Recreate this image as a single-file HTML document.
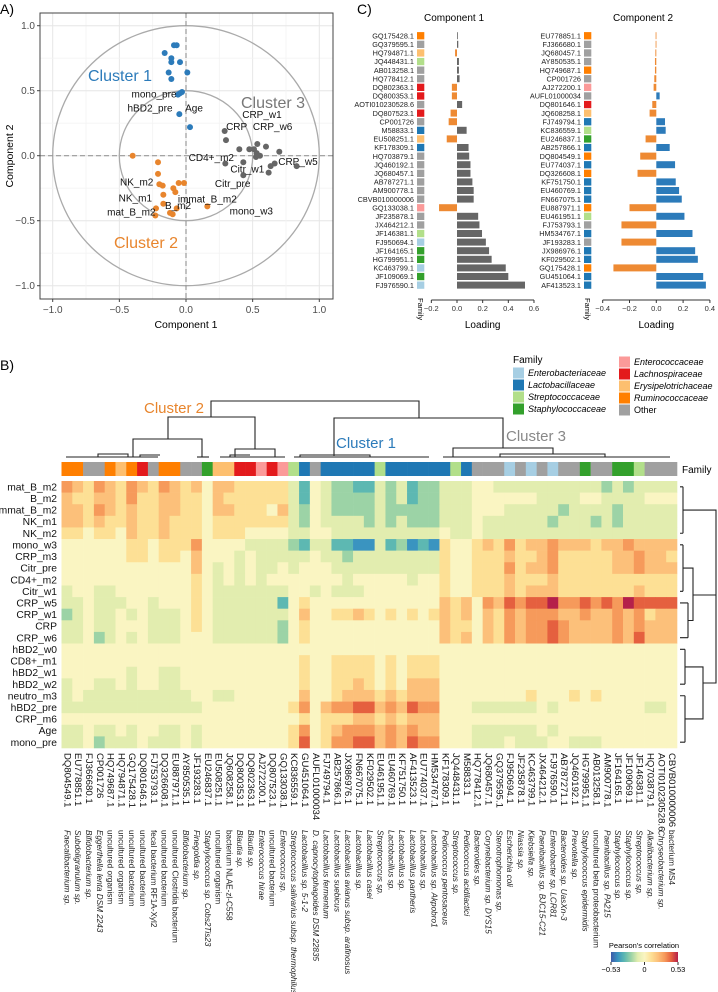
<!DOCTYPE html>
<html><head><meta charset="utf-8">
<style>
html,body{margin:0;padding:0;background:#fff;}
svg{display:block;font-family:"Liberation Sans",Arial,sans-serif;}
</style></head>
<body>
<svg id="fig" width="718" height="992" viewBox="0 0 718 992" xmlns="http://www.w3.org/2000/svg"></svg>
<script>
// ---------- DATA ----------
const famColors = {Ent:'#A6CEE3',Lac:'#1F78B4',Str:'#B2DF8A',Sta:'#33A02C',Enc:'#FB9A99',Lach:'#E31A1C',Ery:'#FDBF6F',Rum:'#FF7F00',Oth:'#A0A0A0'};
// Panel A
const bluePts = [[-0.09,0.85],[-0.07,0.85],[-0.16,0.79],[-0.11,0.75],[-0.045,0.72],[-0.11,0.72],[-0.13,0.64],[0.01,0.64],[-0.11,0.59],[-0.06,0.47],[-0.03,0.49],[-0.045,0.48],[-0.05,0.32],[0.03,0.22]];
const grayPts = [[0.29,0.19],[0.30,0.12],[0.40,0.05],[0.475,0.05],[0.51,0.05],[0.535,0.09],[0.60,0.07],[0.53,0.02],[0.525,-0.01],[0.555,0.0],[0.70,0.03],[0.665,-0.06],[0.635,-0.08],[0.83,-0.08],[0.62,-0.13],[0.43,-0.05],[0.43,-0.15],[0.295,-0.06]];
const orangePts = [[-0.40,0.0],[-0.21,-0.05],[-0.21,-0.14],[-0.20,-0.22],[-0.175,-0.23],[-0.055,-0.21],[-0.015,-0.21],[-0.095,-0.25],[-0.08,-0.28],[-0.17,-0.30],[-0.17,-0.37],[-0.225,-0.405],[-0.23,-0.46],[-0.12,-0.44],[-0.10,-0.45],[-0.07,-0.405],[0.16,-0.39]];
const varLabels = ['mono_pre','hBD2_pre','Age','CRP_w1','CRP','CRP_w6','CD4+_m2','CRP_w5','Citr_w1','Citr_pre','NK_m2','NK_m1','immat_B_m2','B_m2','mat_B_m2','mono_w3'];
const varLabelPos = [[-0.24,0.48],[-0.27,0.37],[0.06,0.37],[0.57,0.32],[0.38,0.23],[0.65,0.23],[0.19,-0.01],[0.84,-0.04],[0.46,-0.10],[0.35,-0.21],[-0.37,-0.20],[-0.38,-0.32],[0.16,-0.33],[-0.06,-0.38],[-0.41,-0.43],[0.49,-0.42]];
const axTicks = [-1.0,-0.5,0.0,0.5,1.0];

// Panel C
const c1Labels = ['GQ175428.1','GQ379595.1','HQ794871.1','JQ448431.1','AB013258.1','HQ778412.1','DQ802363.1','DQ800353.1','AOTI010230528.6','DQ807523.1','CP001726','M58833.1','EU508251.1','KF178309.1','HQ703879.1','JQ460192.1','JQ680457.1','AB787271.1','AM900778.1','CBVB010000006','GQ133038.1','JF235878.1','JX464212.1','JF146381.1','FJ950694.1','JF164165.1','HG799951.1','KC463799.1','JF109069.1','FJ976590.1'];
const c1Fam = ['Rum','Oth','Ery','Str','Oth','Oth','Lach','Lach','Oth','Lach','Oth','Lac','Ery','Lac','Oth','Oth','Oth','Oth','Oth','Oth','Enc','Oth','Oth','Str','Ent','Sta','Sta','Ent','Sta','Ent'];
const c1Vals = [0.003,0.01,-0.015,0.015,0.015,0.02,-0.04,-0.04,0.04,-0.05,-0.065,0.075,-0.08,0.09,0.095,0.105,0.105,0.12,0.13,0.13,-0.14,0.165,0.175,0.195,0.225,0.25,0.27,0.38,0.40,0.53];
const c1Ticks = [-0.2,0.0,0.2,0.4,0.6];
const c2Labels = ['EU778851.1','FJ366680.1','JQ680457.1','AY850535.1','HQ749687.1','CP001726','AJ272200.1','AUFL01000034','DQ801646.1','JQ608258.1','FJ749794.1','KC836559.1','EU246837.1','AB257866.1','DQ804549.1','EU774037.1','DQ326608.1','KF751750.1','EU460769.1','FN667075.1','EU887971.1','EU461951.1','FJ753793.1','HM534767.1','JF193283.1','JX986976.1','KF029502.1','GQ175428.1','GU451064.1','AF413523.1'];
const c2Fam = ['Rum','Oth','Oth','Oth','Rum','Oth','Enc','Oth','Lach','Ery','Lac','Str','Sta','Lac','Rum','Lac','Rum','Lac','Lac','Lac','Rum','Str','Oth','Lac','Oth','Lac','Lac','Rum','Lac','Lac'];
const c2Vals = [-0.005,-0.005,-0.007,-0.01,-0.01,-0.015,-0.02,0.025,-0.03,-0.05,0.065,0.07,-0.08,0.10,-0.12,0.14,-0.14,0.145,0.17,0.19,-0.20,0.21,-0.26,0.27,-0.26,0.29,0.31,-0.32,0.35,0.37];
const c2Ticks = [-0.4,-0.2,0.0,0.2,0.4];

// Panel B heatmap
const hmRows = ['mat_B_m2','B_m2','immat_B_m2','NK_m1','NK_m2','mono_w3','CRP_m3','Citr_pre','CD4+_m2','Citr_w1','CRP_w5','CRP_w1','CRP','CRP_w6','hBD2_w0','CD8+_m1','hBD2_w1','hBD2_w2','neutro_m3','hBD2_pre','CRP_m6','Age','mono_pre'];
const hmCols = ['DQ804549.1','EU778851.1','FJ366680.1','CP001726','HQ749687.1','HQ794871.1','GQ175428.1','DQ801646.1','FJ753793.1','DQ326608.1','EU887971.1','AY850535.1','JF193283.1','EU246837.1','EU508251.1','JQ608258.1','DQ800353.1','DQ802363.1','AJ272200.1','DQ807523.1','GQ133038.1','KC836559.1','GU451064.1','AUFL01000034','FJ749794.1','AB257866.1','JX986976.1','FN667075.1','KF029502.1','EU461951.1','EU460769.1','KF751750.1','AF413523.1','EU774037.1','HM534767.1','KF178309.1','JQ448431.1','M58833.1','HQ778412.1','JQ680457.1','GQ379595.1','FJ950694.1','JF235878.1','KC463799.1','JX464212.1','FJ976590.1','AB787271.1','JQ460192.1','HG799951.1','AB013258.1','AM900778.1','JF164165.1','JF109069.1','JF146381.1','HQ703879.1','AOTI010230528.6','CBVB010000006'];
const hmSpecies = ['Faecalibacterium sp.','Subdoligranulum sp.','Bifidobacterium sp.','Eggerthella lenta DSM 2243','uncultured organism','uncultured organism','uncultured bacterium','uncultured bacterium','fecal bacterium RF1A-Xyl2','uncultured bacterium','uncultured Clostridia bacterium','Bifidobacterium sp.','Finegoldia sp.','Staphylococcus sp. Cobs2Tis23','uncultured organism','bacterium NLAE-zl-C558','Blautia sp.','Blautia sp.','Enterococcus hirae','uncultured bacterium','Enterococcus sp.','Streptococcus salivarius subsp. thermophilus','Lactobacillus sp. 5-1-2','D. capnocytophagoides DSM 22835','Lactobacillus fermentum','Lactobacillus suebicus','Lactobacillus avianus subsp. arafinosus','Lactobacillus sp.','Lactobacillus casei','Streptococcus sp.','Lactobacillus sp.','Lactobacillus sp.','Lactobacillus pantheris','Lactobacillus sp.','Lactobacillus sp. Akpobro1','Pediococcus pentosaceus','Streptococcus sp.','Pediococcus acidilactici','Bacteroides sp.','Corynebacterium sp. DYS15','Stenotrophomonas sp.','Escherichia coli','Niassia sp.','Klebsiella sp.','Paenibacillus sp. BJC15-C21','Enterobacter sp. LCR81','Bacteroides sp. UasXn-3','Prevotella sp.','Staphylococcus epidermidis','uncultured beta proteobacterium','Paenibacillus sp. PA215','Staphylococcus sp.','Staphylococcus sp.','Streptococcus sp.','Alkalibacterium sp.','Chryseobacterium sp.','bacterium MS4'];
const hmFam = ['Rum','Rum','Oth','Oth','Rum','Ery','Rum','Lach','Oth','Rum','Rum','Oth','Oth','Sta','Ery','Ery','Lach','Lach','Enc','Lach','Enc','Str','Lac','Oth','Lac','Lac','Lac','Lac','Lac','Str','Lac','Lac','Lac','Lac','Lac','Lac','Str','Lac','Oth','Oth','Oth','Ent','Oth','Ent','Oth','Ent','Oth','Oth','Sta','Oth','Oth','Sta','Sta','Str','Oth','Oth','Oth'];
// correlation level per cell (digit d -> r = (d-4)*0.106)
const hmLevels = [
'7657657657656466555553143221'+'13231223334433333333332323333',
'6556657556655465555553143222'+'23231223334444443333443333444',
'6657656556655466555463243222'+'23222223334443333323333233333',
'6656556556555455555553243333'+'23232223334333333233323233333',
'5545546556555455544443344333'+'33333334334333333333333333333',
'4444445545557444433332133110'+'03120105445657566766656676666',
'4444445545546444343333343323'+'33333335445556556755555667665',
'4444444444446434343343444333'+'33333335445557566755555667666',
'4444444444445434343444444434'+'44443445445556555655555555555',
'3443344444445433333334434333'+'44444445445556566655555556555',
'3343334434445433333314544444'+'44444446564768788977878798888',
'2343343433345433333334644556'+'54545456564657677766766767566',
'3343344433345433333324544444'+'44444446554657677876666767666',
'3342343433344433333324544444'+'44444446564657677876666768666',
'4444444444444444444444444444'+'44444444444444444444444444444',
'4444444444444444444444544555'+'5454555'+'4444444444444444444444',
'4444443443344444444444544555'+'5454555'+'4444444444444444444444',
'3443343443344444444444544556'+'5454666'+'4444444444444444444444',
'3433333333334433444444644566'+'6565666'+'4444444454445454444444',
'3333333333333444444445746778'+'8676877'+'4443333334344444444334',
'4444444444444444444444545556'+'6565666'+'4444444444444444444444',
'3343343443343444444445745677'+'7676766'+'4443333334344444444444',
'3342333433343444444445845778'+'8676877'+'4443334333443334444444'
];
const cbTicks = [-0.53,0,0.53];
const famLegend = [['Ent','Enterobacteriaceae'],['Lac','Lactobacillaceae'],['Str','Streptococcaceae'],['Sta','Staphylococcaceae'],['Enc','Enterococcaceae'],['Lach','Lachnospiraceae'],['Ery','Erysipelotrichaceae'],['Rum','Ruminococcaceae'],['Oth','Other']];

// ---------- HELPERS ----------
const NS='http://www.w3.org/2000/svg';
const svg=document.getElementById('fig');
function mk(tag,attrs,parent){const e=document.createElementNS(NS,tag);for(const k in attrs)e.setAttribute(k,attrs[k]);(parent||svg).appendChild(e);return e;}
function txt(s,attrs,parent){const e=mk('text',attrs,parent);e.textContent=s;return e;}
function fmt(v,d){return (v<0?'\u2212':'')+Math.abs(v).toFixed(d);}

// ---------- PANEL A ----------
const A=mk('g',{});


const ax=v=>186+v*133.3, ay=v=>155.7-v*130;
let t=txt('A)',{x:0,y:14,'font-size':14},A);

const bg=mk('rect',{x:40,y:13,width:293,height:286,fill:'#fff'},A);

for(let v=-1.25;v<=1.26;v+=0.25){
  const major=Math.abs(v*2-Math.round(v*2))<1e-6;
  const gx=ax(v); if(gx>40&&gx<333){const l=mk('line',{x1:gx,x2:gx,y1:13,y2:299,stroke:major?'#e6e6e6':'#f3f3f3','stroke-width':major?1:0.8},A);}
  const gy=ay(v); if(gy>13&&gy<299){const l=mk('line',{x1:40,x2:333,y1:gy,y2:gy,stroke:major?'#e6e6e6':'#f3f3f3','stroke-width':major?1:0.8},A);}
}
let c=mk('ellipse',{cx:ax(0),cy:ay(0),rx:133.3,ry:130,fill:'none',stroke:'#aaa','stroke-width':1.3},A);

c=mk('ellipse',{cx:ax(0),cy:ay(0),rx:66.7,ry:65,fill:'none',stroke:'#aaa','stroke-width':1.3},A);

let l=mk('line',{x1:ax(0),x2:ax(0),y1:13,y2:299,stroke:'#999','stroke-dasharray':'5,3','stroke-width':1.2},A);

l=mk('line',{x1:40,x2:333,y1:ay(0),y2:ay(0),stroke:'#999','stroke-dasharray':'5,3','stroke-width':1.2},A);

[[bluePts,'#2C7BBA','cluster1-point'],[grayPts,'#666666','cluster3-point'],[orangePts,'#E8852D','cluster2-point']].forEach(([pts,col,nm])=>{
  pts.forEach(p=>{const d=mk('circle',{cx:ax(p[0]),cy:ay(p[1]),r:3,fill:col},A);
    
    });
});
varLabels.forEach((s,i)=>{const e=txt(s,{x:ax(varLabelPos[i][0]),y:ay(varLabelPos[i][1])+4,'font-size':10,'text-anchor':'middle',fill:'#111'},A);
  
  });
t=txt('Cluster 1',{x:120,y:81,'font-size':16,'text-anchor':'middle',fill:'#2C7BBA'},A);
t=txt('Cluster 3',{x:273,y:108,'font-size':16,'text-anchor':'middle',fill:'#777'},A);
t=txt('Cluster 2',{x:146,y:248,'font-size':16,'text-anchor':'middle',fill:'#E8852D'},A);
const brd=mk('rect',{x:40,y:13,width:293,height:286,fill:'none',stroke:'#444','stroke-width':1},A);

axTicks.forEach(v=>{
  let e=txt(fmt(v,1),{x:ax(v),y:313,'font-size':10,'text-anchor':'middle',fill:'#4d4d4d'},A);
  
  mk('line',{x1:ax(v),x2:ax(v),y1:299,y2:302,stroke:'#444'},A);
  e=txt(fmt(v,1),{x:35,y:ay(v)+3.5,'font-size':10,'text-anchor':'end',fill:'#4d4d4d'},A);
  
  mk('line',{x1:37,x2:40,y1:ay(v),y2:ay(v),stroke:'#444'},A);
});
t=txt('Component  1',{x:186,y:328,'font-size':10.5,'text-anchor':'middle'},A);
t=txt('Component  2',{x:0,y:0,'font-size':10.5,'text-anchor':'middle',transform:'translate(13,156) rotate(-90)'},A);

// ---------- PANEL C ----------
const C=mk('g',{});


t=txt('C)',{x:357,y:14,'font-size':14},C);
function loadingPlot(title,labels,fams,vals,ticks,x0,scale,sqx,labx,titlex,posCol,nm){
  const g=mk('g',{},C);
  
  
  let e=txt(title,{x:titlex,y:21,'font-size':10,'text-anchor':'middle'},g);
  
  const ry=i=>35.7+i*8.6;
  labels.forEach((s,i)=>{
    e=txt(s,{x:labx,y:ry(i)+2.7,'font-size':7.3,'text-anchor':'end',fill:'#222'},g);
    
    e=mk('rect',{x:sqx,y:ry(i)-3.6,width:7.3,height:7.3,fill:famColors[fams[i]]},g);
    
    const v=vals[i];const xa=x0+scale*Math.min(0,v),w=Math.abs(v)*scale;
    e=mk('rect',{x:xa,y:ry(i)-3.5,width:Math.max(w,0.8),height:7,fill:v>=0?posCol:'#EE8A33'},g);
    
  });
  const xmin=x0+ticks[0]*scale,xmax=x0+ticks[ticks.length-1]*scale;
  e=mk('line',{x1:xmin,x2:xmax,y1:300,y2:300,stroke:'#333'},g);
  
  ticks.forEach(v=>{mk('line',{x1:x0+v*scale,x2:x0+v*scale,y1:300,y2:303,stroke:'#333'},g);
    e=txt(fmt(v,1),{x:x0+v*scale,y:311,'font-size':7.5,'text-anchor':'middle',fill:'#333'},g);
    });
  e=txt('Loading',{x:(xmin+xmax)/2,y:328,'font-size':10,'text-anchor':'middle'},g);
  
  e=txt('Family',{x:0,y:0,'font-size':7.5,transform:`translate(${sqx+1},298) rotate(90)`},g);
  
}
loadingPlot('Component 1',c1Labels,c1Fam,c1Vals,c1Ticks,457,128.3,417,414,454,'#666666','component-1-loadings');
loadingPlot('Component 2',c2Labels,c2Fam,c2Vals,c2Ticks,656.3,134,584,581,643,'#2C7BBA','component-2-loadings');

// ---------- PANEL B ----------
const B=mk('g',{});


t=txt('B)',{x:0,y:370,'font-size':14},B);
// legend
t=txt('Family',{x:513,y:363,'font-size':10},B);
famLegend.forEach((f,i)=>{
  const col=i<4?0:1, r=i<4?i:i-4;
  const x=col?619:513, y=col?(362+r*12):(373+r*12);
  let e=mk('rect',{x:x,y:y-5.5,width:11,height:11,fill:famColors[f[0]]},B);
  
  e=txt(f[1],{x:x+15,y:y+3,'font-size':9,'font-style':f[0]==='Oth'?'normal':'italic'},B);
  
});
// dendrogram top
const dend=['M211,417V401H419V418','M168,439V417H255V449','M133,457V439H202V457','M235,457V449H275V457','M334,456V418H503V448','M453,457V448H553V454','M500,457V454H605V457',
 'M66,457H158','M197,457H209','M220,457H285','M294,457H429','M443,457H670','M98,457V454H128V457','M300,457V455H370V457','M140,457V455H160','M230,457V455H250'];
dend.forEach(d=>{const e=mk('path',{d:d,fill:'none',stroke:'#222','stroke-width':1.1},B);
  
  });
t=txt('Cluster 2',{x:174,y:413,'font-size':15,'text-anchor':'middle',fill:'#E8852D'},B);
t=txt('Cluster 1',{x:366,y:448,'font-size':15,'text-anchor':'middle',fill:'#2C7BBA'},B);
t=txt('Cluster 3',{x:536,y:441,'font-size':15,'text-anchor':'middle',fill:'#888'},B);
// scales
const hx0=61.5, cw=(677-61.5)/hmCols.length, hy0=481, rh=(748-481)/hmRows.length;
const colX=j=>hx0+j*cw, rowY=i=>hy0+i*rh;
const stops=[[-0.53,'#3E5BA8'],[-0.424,'#3A94C0'],[-0.318,'#5DB8B2'],[-0.212,'#9CD3A6'],[-0.106,'#E2EDAF'],[0,'#FAF5C2'],[0.106,'#FDE095'],[0.212,'#FCC07A'],[0.318,'#F69A5B'],[0.424,'#E5603F'],[0.53,'#B5204A']];
function hex(h){return [1,3,5].map(k=>parseInt(h.substr(k,2),16));}
function colorOf(v){v=Math.max(-0.53,Math.min(0.53,v));for(let k=0;k<stops.length-1;k++){const a=stops[k],b=stops[k+1];if(v<=b[0]){const f=(v-a[0])/(b[0]-a[0]);const ca=hex(a[1]),cb=hex(b[1]);return 'rgb('+ca.map((x,q)=>Math.round(x+(cb[q]-x)*f)).join(',')+')';}}return stops[stops.length-1][1];}
// family strip
hmFam.forEach((f,j)=>{const e=mk('rect',{x:colX(j),y:462,width:cw+0.3,height:14,fill:famColors[f]},B);
  
  });
t=txt('Family',{x:682,y:473,'font-size':10},B);
// cells
hmLevels.forEach((row,i)=>{
  for(let j=0;j<hmCols.length;j++){
    const v=(parseInt(row[j])-4)*0.106;
    const e=mk('rect',{x:colX(j),y:rowY(i),width:cw+0.3,height:rh+0.3,fill:colorOf(v)},B);
    
    
  }
  const e=txt(hmRows[i],{x:57,y:rowY(i)+rh/2+3.6,'font-size':10.3,'text-anchor':'end',fill:'#111'},B);
  
  
});
// row dendrogram
const rc=i=>rowY(i)+rh/2;
const rd=[`M680,${rc(0)}H683M680,${rc(4)}H683M683,${rc(0)}V${rc(4)}`,`M683,${rc(2)}H716V683H703`,
 `M680,${rc(5)}H683M680,${rc(9)}H683M683,${rc(5)}V${rc(9)}`,`M680,${rc(10)}H688M680,${rc(13)}H688M688,${rc(10)}V${rc(13)}`,
 `M683,${rc(7)}H693V${rc(11)+6}H688`,'M693,595H716',
 `M680,${rc(14)}H685M680,${rc(17)}H685M685,${rc(14)}V${rc(17)}`,`M680,${rc(18)}H685M680,${rc(22)}H685M685,${rc(18)}V${rc(22)}`,
 `M685,${rc(15)+6}H703V${rc(20)}H685`];
rd.forEach(d=>{const e=mk('path',{d:d,fill:'none',stroke:'#222','stroke-width':1.1},B);
  
  });
// column labels
hmCols.forEach((s,j)=>{
  const cx=colX(j)+cw/2;
  let e=txt(s,{x:0,y:0,'font-size':9.6,'dominant-baseline':'central',fill:'#111',transform:`translate(${cx},753) rotate(90)`},B);
  
  
  const sp=hmSpecies[j];
  const ital=!/^(uncultured|bacterium|fecal)/.test(sp);
  e=txt(sp,{x:0,y:0,'font-size':8.2,'font-style':ital?'italic':'normal','dominant-baseline':'central',fill:'#222',transform:`translate(${cx},830) rotate(90)`},B);
  
  
});
// colorbar
const defs=mk('defs',{});
const lg=mk('linearGradient',{id:'cb',x1:0,x2:1,y1:0,y2:0},defs);
stops.forEach(s=>mk('stop',{offset:((s[0]+0.53)/1.06*100)+'%','stop-color':s[1]},lg));
t=txt("Pearson's correlation",{x:644,y:948,'font-size':7.5,'text-anchor':'middle'},B);
const cb=mk('rect',{x:611,y:952,width:67,height:10,fill:'url(#cb)'},B);

cbTicks.forEach(v=>{const x=611+(v+0.53)/1.06*67;
  mk('line',{x1:x,x2:x,y1:962,y2:965,stroke:'#333'},B);
  const e=txt(v===0?'0':fmt(v,2),{x:x,y:972,'font-size':7.5,'text-anchor':'middle'},B);
  
  });
</script>
</body></html>
